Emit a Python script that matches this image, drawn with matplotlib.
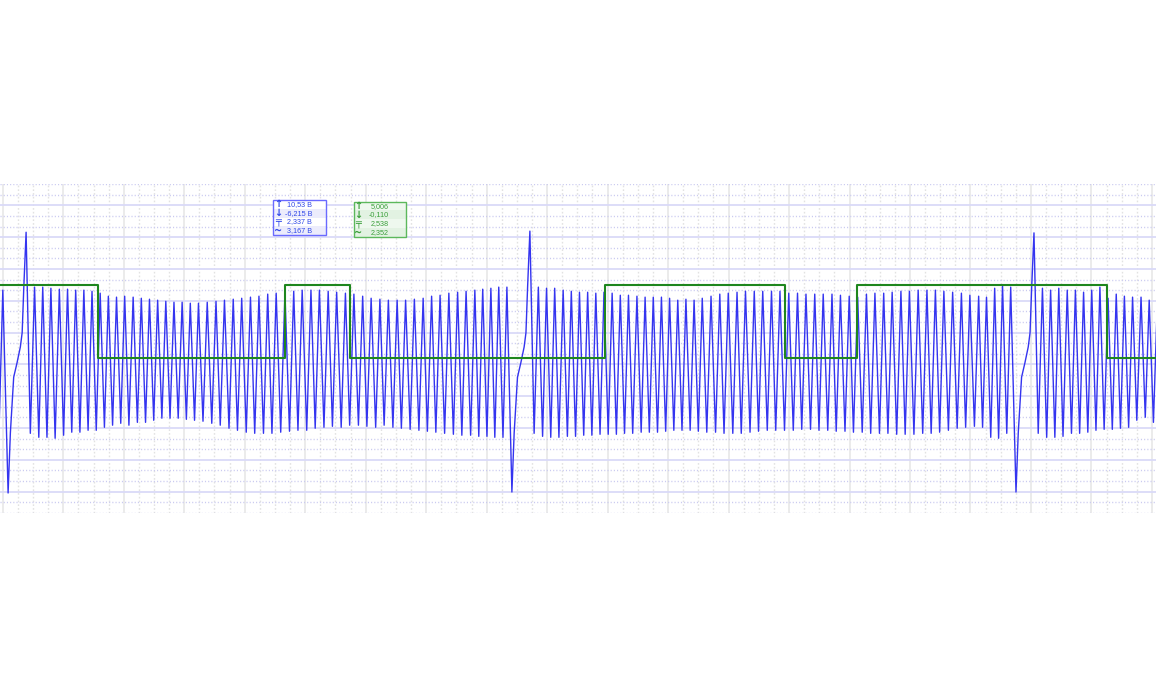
import numpy as np
import matplotlib
matplotlib.use('Agg')
import matplotlib.pyplot as plt
from matplotlib.ticker import MultipleLocator
from matplotlib.patches import Rectangle

plt.rcParams['font.family'] = ['Liberation Sans', 'DejaVu Sans']

# Capteur vilebrequin (bleu), roue 60-2 : temps des pics de la dent manquante [ms]
temps_synchro = [7.7, 174.3, 341.0]
v_synchro = [10.31, 10.38, 10.27]
v_creux_synchro = [-6.08, -6.02, -6.02]

# rampe avant le pic, temps relatif au pic [ms]
rampe_t = [-5.95, -5.2, -4.1, -3.0, -1.9, -1.3, -0.75, 0.0]
rampe_v = [-2.3, 1.2, 2.1, 3.1, 4.0, 6.9]

# sommets et creux des dents apres le pic, temps relatif [ms]
dents_t = [2.8, 5.5, 8.2, 11.0, 13.7, 16.4, 19.1, 21.8, 24.5, 27.2,
           29.9, 32.6, 35.4, 38.1, 40.8, 43.5, 46.2, 48.9, 51.6, 54.3,
           57.0, 59.9, 62.8, 65.6, 68.5, 71.3, 74.2, 77.0, 79.9, 82.7,
           85.6, 88.5, 91.3, 94.2, 97.0, 99.9, 102.7, 105.6, 108.4, 111.3,
           114.1, 117.0, 119.8, 122.7, 125.5, 128.4, 131.3, 134.1, 136.9, 139.8,
           142.7, 145.5, 148.4, 151.0, 153.7, 156.3, 159.0]
creux_t = [1.4, 4.2, 6.9, 9.6, 12.4, 15.1, 17.8, 20.5, 23.2, 25.9,
           28.6, 31.3, 34.0, 36.8, 39.5, 42.2, 44.9, 47.6, 50.3, 53.0,
           55.7, 58.5, 61.4, 64.2, 67.1, 69.9, 72.8, 75.6, 78.5, 81.3,
           84.2, 87.1, 89.9, 92.8, 95.6, 98.5, 101.3, 104.2, 107.0, 109.9,
           112.7, 115.6, 118.4, 121.3, 124.1, 127.0, 129.9, 132.7, 135.5, 138.4,
           141.3, 144.1, 147.0, 149.7, 152.4, 155.0, 157.7]

# fin du tour precedent, au bord gauche
debut_t = [-2.7, -1.3, 0.0]
debut_v = [6.79, -2.45, 6.67]

sommets_tour1 = [6.86, 6.86, 6.79, 6.73, 6.73, 6.67, 6.67, 6.60, 6.48, 6.29,
                 6.23, 6.29, 6.23, 6.16, 6.10, 6.04, 5.97, 5.91, 5.91, 5.85,
                 5.85, 5.91, 5.97, 6.04, 6.10, 6.16, 6.23, 6.29, 6.42, 6.48,
                 6.54, 6.60, 6.67, 6.67, 6.67, 6.60, 6.54, 6.48, 6.42, 6.29,
                 6.16, 6.10, 6.04, 6.04, 6.04, 6.10, 6.16, 6.29, 6.35, 6.48,
                 6.54, 6.60, 6.67, 6.73, 6.79, 6.86, 6.86]
creux_tour1 = [-2.33, -2.58, -2.58, -2.64, -2.45, -2.26, -2.26, -2.14, -2.14, -1.95,
               -1.82, -1.70, -1.82, -1.64, -1.64, -1.51, -1.38, -1.38, -1.38, -1.45,
               -1.51, -1.57, -1.70, -1.82, -2.01, -2.14, -2.26, -2.33, -2.33, -2.33,
               -2.26, -2.20, -2.14, -2.14, -2.01, -1.95, -1.89, -1.95, -1.82, -1.82,
               -1.89, -1.95, -1.82, -1.95, -2.01, -2.08, -2.14, -2.20, -2.26, -2.33,
               -2.39, -2.45, -2.45, -2.52, -2.52, -2.58, -2.58]

sommets_tour2 = [6.86, 6.79, 6.79, 6.67, 6.60, 6.54, 6.54, 6.48, 6.54, 6.48,
                 6.35, 6.35, 6.29, 6.23, 6.23, 6.23, 6.16, 6.04, 6.10, 6.04,
                 6.16, 6.29, 6.42, 6.48, 6.54, 6.60, 6.60, 6.60, 6.60, 6.60,
                 6.48, 6.48, 6.42, 6.42, 6.42, 6.42, 6.35, 6.29, 6.23, 6.42,
                 6.48, 6.48, 6.54, 6.60, 6.60, 6.67, 6.67, 6.67, 6.60, 6.54,
                 6.48, 6.35, 6.29, 6.23, 6.79, 6.98, 6.86]
creux_tour2 = [-2.33, -2.52, -2.58, -2.58, -2.52, -2.52, -2.45, -2.45, -2.39, -2.39,
               -2.39, -2.33, -2.33, -2.26, -2.26, -2.26, -2.20, -2.14, -2.14, -2.14,
               -2.20, -2.26, -2.26, -2.33, -2.33, -2.33, -2.26, -2.20, -2.14, -2.14,
               -2.14, -2.14, -2.08, -2.08, -2.14, -2.14, -2.20, -2.20, -2.26, -2.26,
               -2.33, -2.33, -2.33, -2.39, -2.39, -2.39, -2.33, -2.33, -2.26, -2.14,
               -2.01, -1.95, -1.89, -1.95, -2.58, -2.64, -2.33]

sommets_tour3 = [6.79, 6.67, 6.79, 6.67, 6.67, 6.54, 6.67, 6.86, 6.16, 6.42,
                 6.29, 6.23, 6.23, 6.04, 6.04]
creux_tour3 = [-2.33, -2.58, -2.58, -2.52, -2.33, -2.33, -2.26, -2.14, -2.08, -2.08,
               -2.01, -1.95, -1.51, -1.32, -1.64]

# Capteur arbre a cames (vert), fronts [ms] et niveaux [V]
came_t = [-0.93, 31.6, 93.3, 114.8, 199.0, 258.8, 282.4, 365.0, 381.4]
came_v = [5.006, -0.110, 5.006, -0.110, 5.006, -0.110, 5.006, -0.110, -0.110]

# mesures affichees (max, min, moyenne, rms)
stats_vilo = ['10,53 В', '-6,215 В', '2,337 В', '3,167 В']
stats_came = ['5,006', '-0,110', '2,538', '2,352']
icones = ['↑', '↓', '╤', '~']


def construire_trace():
    t = list(debut_t)
    v = list(debut_v)
    sommets = [sommets_tour1, sommets_tour2, sommets_tour3]
    creux = [creux_tour1, creux_tour2, creux_tour3]
    for i, t0 in enumerate(temps_synchro):
        valeurs_rampe = [v_creux_synchro[i]] + rampe_v + [v_synchro[i]]
        for dt, vv in zip(rampe_t, valeurs_rampe):
            t.append(t0 + dt)
            v.append(vv)
        for tc, vc, tp, vp in zip(creux_t, creux[i], dents_t, sommets[i]):
            t += [t0 + tc, t0 + tp]
            v += [vc, vp]
    return np.array(t), np.array(v)


def boite(ax, x0, x1, y_haut, y_bas, valeurs, bord, fond, fond_alt, couleur, x_icone, x_texte):
    h = (y_haut - y_bas) / 4
    for i, val in enumerate(valeurs):
        y = y_haut - (i + 1) * h
        ax.add_patch(Rectangle((x0, y), x1 - x0, h, transform=ax.transAxes,
                               facecolor=fond if i % 2 == 0 else fond_alt,
                               edgecolor='none', zorder=5, clip_on=False))
        ax.text(x_icone, y + h / 2, icones[i], transform=ax.transAxes, ha='center',
                va='center', fontsize=7, fontweight='bold', color=couleur, zorder=7,
                family=['DejaVu Sans'])
        ax.text(x_texte, y + h / 2, val, transform=ax.transAxes, ha='right',
                va='center', fontsize=5.2, color=couleur, zorder=7)
    ax.add_patch(Rectangle((x0, y_bas), x1 - x0, y_haut - y_bas, transform=ax.transAxes,
                           fill=False, edgecolor=bord, lw=1.0, zorder=6, clip_on=False))


t_vilo, v_vilo = construire_trace()

fig = plt.figure(figsize=(11.56, 7.0), dpi=100)
ax = fig.add_axes([0, 0.2671, 1, 0.47])
ax.set_xlim(-0.93, 381.35)
ax.set_ylim(-7.34, 13.34)

# grille de l'oscillo
ax.xaxis.set_major_locator(MultipleLocator(20))
ax.xaxis.set_minor_locator(MultipleLocator(5))
ax.yaxis.set_major_locator(MultipleLocator(2))
ax.yaxis.set_minor_locator(MultipleLocator(2 / 3))
ax.grid(which='major', axis='x', color='#e8e8e8', lw=1.2, ls='-')
ax.grid(which='minor', axis='x', color='#e2e2e2', lw=1.0, ls=(0, (1.2, 1.5)))
ax.grid(which='major', axis='y', color='#dadaf8', lw=1.3, ls='-')
ax.grid(which='minor', axis='y', color='#cacaf0', lw=1.0, ls=(0, (0.8, 1.5)))
ax.tick_params(which='both', length=0, labelleft=False, labelbottom=False)
for s in ax.spines.values():
    s.set_visible(False)
ax.set_axisbelow(True)

ax.plot(t_vilo, v_vilo, color='#3434f0', lw=1.0, zorder=3)

ax2 = ax.twinx()
ax2.set_ylim(-10.96, 12.06)
ax2.tick_params(which='both', length=0, labelright=False)
for s in ax2.spines.values():
    s.set_visible(False)
ax2.plot(came_t, came_v, drawstyle='steps-post', color='#1e861e', lw=1.5, zorder=4)

boite(ax2, 0.2364, 0.2818, 0.9514, 0.8450, stats_vilo, '#6a6aff', '#ffffff', '#ececfc',
      '#3048e8', 0.2409, 0.2699)
boite(ax2, 0.3065, 0.3512, 0.9462, 0.8398, stats_came, '#5cb85c', '#eef8ee', '#e2f2e2',
      '#3a9f3a', 0.3096, 0.3361)

fig.savefig('out.png', dpi=100)
